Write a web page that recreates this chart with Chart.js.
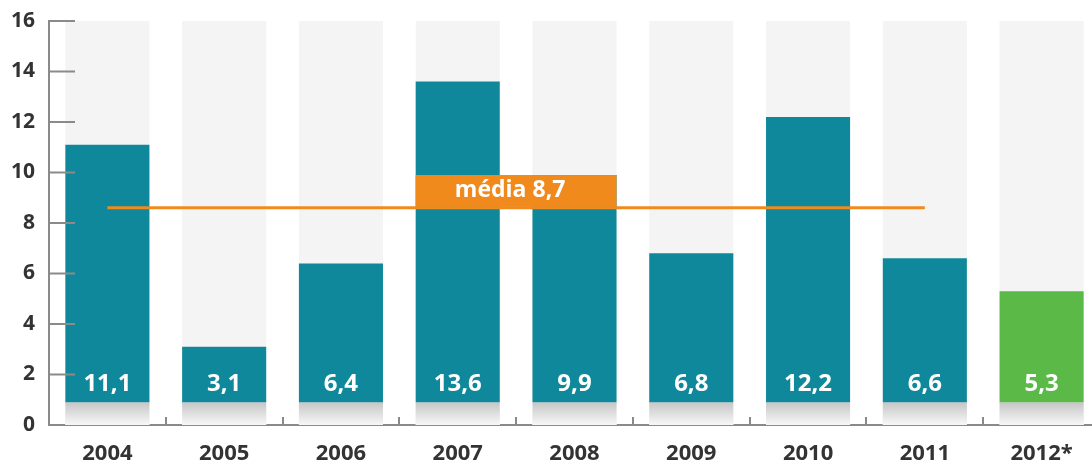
<!DOCTYPE html>
<html>
<head>
<meta charset="utf-8">
<script src="https://cdn.jsdelivr.net/npm/chart.js@4"></script>
<style>
  html, body { margin: 0; padding: 0; background: #fff; overflow: hidden; }
  #wrap { width: 1100px; height: 461px; }
</style>
</head>
<body>
<div id="wrap"><canvas id="grafico"></canvas></div>
<script>
const anos = ['2004', '2005', '2006', '2007', '2008', '2009', '2010', '2011', '2012*'];
const valores = [11.1, 3.1, 6.4, 13.6, 9.9, 6.8, 12.2, 6.6, 5.3];
const mediaLinha = [8.6, 8.6, 8.6, 8.6, 8.6, 8.6, 8.6, 8.6, null];
const mediaTexto = 'média 8,7';
const yMax = 16;
const sombra = 0.9; // faixa cinza na base das barras

const teal = '#10889b';
const verde = '#5ab947';
const laranja = '#f18a1d';

const fmt = v => v.toFixed(1).replace('.', ',');

const extras = {
    id: 'extras',
    afterDatasetsDraw(chart) {
        const { ctx, scales: { x, y }, chartArea } = chart;
        const meta = chart.getDatasetMeta(2);
        ctx.save();
        // rótulos dentro das barras
        ctx.fillStyle = '#fff';
        ctx.font = 'bold 24px "Open Sans"';
        ctx.textAlign = 'center';
        ctx.textBaseline = 'middle';
        meta.data.forEach((bar, i) => {
            ctx.fillText(fmt(valores[i]), bar.x, y.getPixelForValue(1.6));
        });
        // caixa da média
        const b3 = meta.data[3], b4 = meta.data[4];
        const x0 = b3.x - b3.width / 2, x1 = b4.x + b4.width / 2;
        const top = y.getPixelForValue(valores[4]);
        const bot = y.getPixelForValue(mediaLinha[0]) - 1;
        ctx.fillStyle = laranja;
        ctx.fillRect(x0, top, x1 - x0, bot - top);
        ctx.fillStyle = '#fff';
        ctx.font = 'bold 23px "Open Sans"';
        ctx.fillText(mediaTexto, (x0 + x1) / 2 - 6, (top + bot) / 2);
        // marcas dos eixos
        ctx.strokeStyle = '#8a8a8a';
        ctx.lineWidth = 2;
        y.ticks.forEach(t => {
            if (t.value === 0) return;
            const py = y.getPixelForValue(t.value);
            ctx.beginPath();
            ctx.moveTo(chartArea.left, py);
            ctx.lineTo(chartArea.left + 26, py);
            ctx.stroke();
        });
        const passo = x.getPixelForValue(1) - x.getPixelForValue(0);
        for (let i = 0; i < anos.length - 1; i++) {
            const px = Math.round(x.getPixelForValue(i) + passo / 2);
            ctx.beginPath();
            ctx.moveTo(px, chartArea.bottom);
            ctx.lineTo(px, chartArea.bottom - 8);
            ctx.stroke();
        }
        ctx.restore();
    }
};

const ctx = document.getElementById('grafico').getContext('2d');

new Chart(ctx, {
    type: 'bar',
    data: {
        labels: anos,
        datasets: [
            {
                type: 'line',
                data: mediaLinha,
                borderColor: laranja,
                borderWidth: 3,
                pointRadius: 0,
                order: 1
            },
            {
                data: anos.map(() => [0, sombra]),
                backgroundColor: (c) => {
                    const area = c.chart.chartArea;
                    if (!area) return '#ddd';
                    const ys = c.chart.scales.y;
                    const g = c.chart.ctx.createLinearGradient(0, ys.getPixelForValue(sombra), 0, area.bottom);
                    g.addColorStop(0, '#c6c6c6');
                    g.addColorStop(1, '#f8f8f8');
                    return g;
                },
                order: 3
            },
            {
                data: valores.map(v => [sombra, v]),
                backgroundColor: valores.map((v, i) => i === valores.length - 1 ? verde : teal),
                order: 2
            },
            {
                data: anos.map(() => [0, yMax]),
                backgroundColor: '#f4f4f4',
                order: 4
            }
        ]
    },
    options: {
        responsive: true,
        maintainAspectRatio: false,
        animation: false,
        layout: { padding: { top: 21, right: 0, left: 0, bottom: 0 } },
        datasets: {
            bar: { grouped: false, barPercentage: 0.72, categoryPercentage: 1 }
        },
        scales: {
            x: {
                offset: true,
                grid: { display: false },
                border: { display: true, color: '#8a8a8a', width: 2 },
                ticks: {
                    color: '#333',
                    font: { family: 'Open Sans', weight: 'bold', size: 22 },
                    padding: 8,
                    maxRotation: 0
                },
                afterFit: s => { s.height = 36; }
            },
            y: {
                min: 0,
                max: yMax,
                grid: { display: false, drawTicks: false },
                border: { display: true, color: '#8a8a8a', width: 2 },
                ticks: {
                    stepSize: 2,
                    color: '#333',
                    font: { family: 'Open Sans', weight: 'bold', size: 21 },
                    padding: 14
                },
                afterFit: s => { s.width = 49; s.paddingTop = 0; s.paddingBottom = 0; }
            }
        },
        plugins: {
            legend: { display: false },
            tooltip: { enabled: false }
        }
    },
    plugins: [extras]
});
</script>
</body>
</html>
